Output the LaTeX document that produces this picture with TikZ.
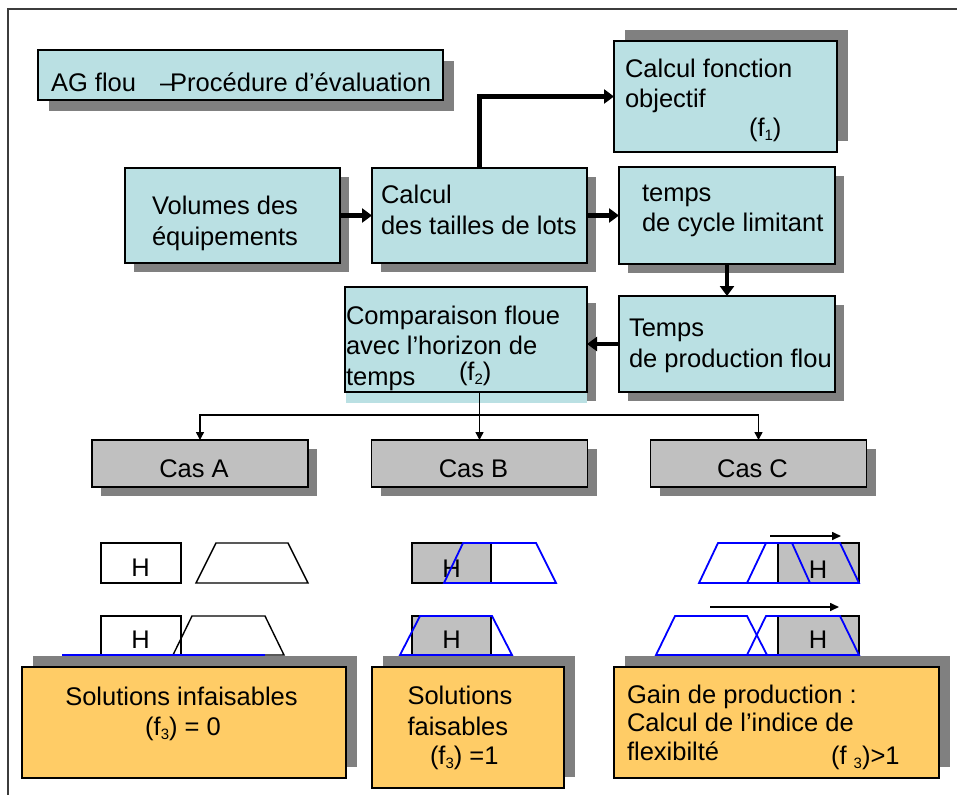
\documentclass[tikz,border=0pt]{standalone}
\usepackage{fontspec}
\setmainfont{Liberation Sans}
\usetikzlibrary{arrows.meta,shadows}

\definecolor{boxcyan}{RGB}{186,224,227}
\definecolor{boxgrey}{RGB}{192,192,192}
\definecolor{shadegrey}{RGB}{128,128,128}
\definecolor{boxorange}{RGB}{255,204,102}
\definecolor{framegrey}{RGB}{60,60,60}
\definecolor{fuzzyblue}{RGB}{0,0,255}

% lowered small index, as in (f1)
\newcommand{\lowidx}[1]{\raisebox{-4pt}{\fontsize{15}{15}\selectfont #1}}

\begin{document}
\begin{tikzpicture}[x=1pt,y=-1pt,
  font=\fontsize{25.5}{30.5}\selectfont,
  every node/.style={inner sep=0pt, outer sep=0pt},
  panel/.style={rectangle, draw=black, line width=1.2pt},
  dropdown/.style={general shadow={fill=shadegrey, shadow xshift=9pt, shadow yshift=-9pt}},
  dropup/.style={general shadow={fill=shadegrey, shadow xshift=11pt, shadow yshift=11pt}},
  cyanbox/.style={panel, fill=boxcyan},
  casebox/.style={panel, fill=boxgrey, dropdown, minimum width=216pt, minimum height=47pt},
  resultbox/.style={panel, fill=boxorange, dropup},
  % multi-line texts: the base anchor sits on the last line
  txt/.style={anchor=base west, align=left},
  ctxt/.style={anchor=base, align=center},
  bigarrow/.style={line width=4.5pt, -{Triangle[length=10pt,width=14pt]}},
  thinarrow/.style={line width=1.5pt, -{Triangle[length=8pt,width=8pt]}},
  outline/.style={line width=1.4pt, line join=miter},
  blueshape/.style={draw=fuzzyblue, line width=1.8pt},
  shift arrow/.style={line width=1.6pt, -{Triangle[length=9pt,width=8pt]}}
]
\useasboundingbox (0,0) rectangle (957,794);

% outer frame
\draw[framegrey, line width=1.5pt] (8,800) -- (8,9) -- (960,9);

% ---- upper flow chart ----
\node[cyanbox, general shadow={fill=shadegrey, shadow xshift=11pt, shadow yshift=-11pt},
      minimum width=405pt, minimum height=50pt] (title) at (240.5,75) {};
\node[txt] (ttitle) at (51,92) {AG flou\hspace{24pt}–\kern-4pt Procédure d’évaluation};

\node[cyanbox, dropdown, minimum width=215pt, minimum height=95pt] (vol) at (232.5,215.5) {};
\node[txt] (tvol) at (152,245) {Volumes des\\équipements};

\node[cyanbox, dropdown, minimum width=215pt, minimum height=95pt] (lots) at (479.5,215.5) {};
\node[txt] (tlots) at (381,234) {Calcul\\des tailles de lots};

\node[cyanbox, dropup, minimum width=223pt, minimum height=111pt] (obj) at (725.5,96.5) {};
\node[txt] (tobj) at (625,108) {Calcul fonction\\objectif};
\node[txt] (fobj) at (749,137) {(f\lowidx{1})};

\node[cyanbox, dropdown, minimum width=216pt, minimum height=97pt] (cyc) at (727,215.5) {};
\node[txt] (tcyc) at (642,232) {temps\\de cycle limitant};

\node[cyanbox, dropdown, minimum width=216pt, minimum height=96pt] (prod) at (727,344) {};
\node[txt] (tprod) at (629,367) {Temps\\de production flou};

% comparison box: its fill runs a little below its border
\fill[shadegrey] (354,303) rectangle (596,401);
\fill[boxcyan] (346,300) rectangle (587,403);
\node[cyanbox, minimum width=242pt, minimum height=105pt] (comp) at (466,339.5) {};
\node[txt] (tcomp) at (346,385) {Comparaison floue\\avec l’horizon de\\temps};
\node[txt] (fcomp) at (459,380) {(f\lowidx{2})};

\draw[bigarrow] (vol.east) -- (lots.west);
\draw[bigarrow] (lots.east) -- (cyc.west);
\draw[bigarrow] (lots.north) |- (obj.west);
\draw[bigarrow] (cyc.south) -- (prod.north);
\draw[bigarrow] (prod.west) -- (prod.west -| comp.east);

% ---- the three cases ----
\node[casebox] (casA) at (200,463.5) {};
\node[casebox] (casB) at (479.5,463.5) {};
\node[casebox] (casC) at (758.5,463.5) {};
\node[ctxt] (tcasA) at (194,477) {Cas A};
\node[ctxt] (tcasB) at (473.5,477) {Cas B};
\node[ctxt] (tcasC) at (752.5,477) {Cas C};

\coordinate (split) at (479.5,415);
\draw[line width=1.5pt] (casB.north |- comp.south) -- (split);
\draw[thinarrow] (split) -- (casB.north);
\draw[thinarrow] (split) -| (casA.north);
\draw[thinarrow] (split) -| (casC.north);

% ---- result boxes ----
\node[resultbox, minimum width=324pt, minimum height=111pt] (sol1) at (184,722.5) {};
\node[ctxt] (tsol1) at (181.5,705) {Solutions infaisables};
\node[ctxt] (fsol1) at (183,735) {(f\lowidx{3}) = 0};

\node[resultbox, minimum width=192pt, minimum height=121pt] (sol2) at (468,727.5) {};
\node[txt] (tsol2) at (407.5,735) {Solutions\\faisables};
\node[txt] (fsol2) at (430,764) {(f\lowidx{3}) =1};

\node[resultbox, minimum width=325pt, minimum height=111pt] (sol3) at (776.5,722.5) {};
\node[txt, font=\fontsize{25.5}{28.5}\selectfont] (tsol3) at (627,760) {Gain de production :\\Calcul de l’indice de\\flexibilté};
\node[txt] (fsol3) at (831,764) {(f \lowidx{3})>1};

% ---- horizon H against the fuzzy production time ----
% case A: infeasible
\draw[outline] (101,543) rectangle (181,583);
\node[ctxt] (hA1) at (140.5,576) {H};
\draw[outline] (196,583) -- (216,543) -- (288,543) -- (308,583) -- cycle;
\draw[outline] (101,616) rectangle (181,655);
\node[ctxt] (hA2) at (140.5,648) {H};
\draw[outline] (173,655) -- (192,616) -- (265,616) -- (284,655) -- cycle;
\draw[fuzzyblue, line width=1.5pt] (62,655) -- (265,655);

% case B: feasible
\draw[outline, fill=boxgrey] (412,543) rectangle (491,583);
\node[ctxt] (hB1) at (451.5,577) {H};
\draw[blueshape] (444,583) -- (463,543) -- (536,543) -- (556,583) -- cycle;
\draw[outline, fill=boxgrey] (412,616) rectangle (491,655);
\node[ctxt] (hB2) at (451.5,648) {H};
\draw[blueshape] (400,655) -- (420,616) -- (492,616) -- (512,655) -- cycle;

% case C: production gain
\draw[shift arrow] (770,536) -- (841,536);
\draw[outline, fill=boxgrey] (778,543) rectangle (859,583);
\node[ctxt] (hC1) at (818,578) {H};
\draw[blueshape] (699,583) -- (718,543) -- (792,543) -- (810,583) -- cycle;
\draw[blueshape] (747,583) -- (766,543) -- (840,543) -- (859,583) -- cycle;

\draw[shift arrow] (710,607) -- (839,607);
\draw[outline, fill=boxgrey] (778,616) rectangle (859,655);
\node[ctxt] (hC2) at (818,648) {H};
\draw[blueshape] (656,655) -- (675,616) -- (747,616) -- (767,655) -- cycle;
\draw[blueshape] (747,655) -- (766,616) -- (840,616) -- (859,655) -- cycle;
\end{tikzpicture}
\end{document}
